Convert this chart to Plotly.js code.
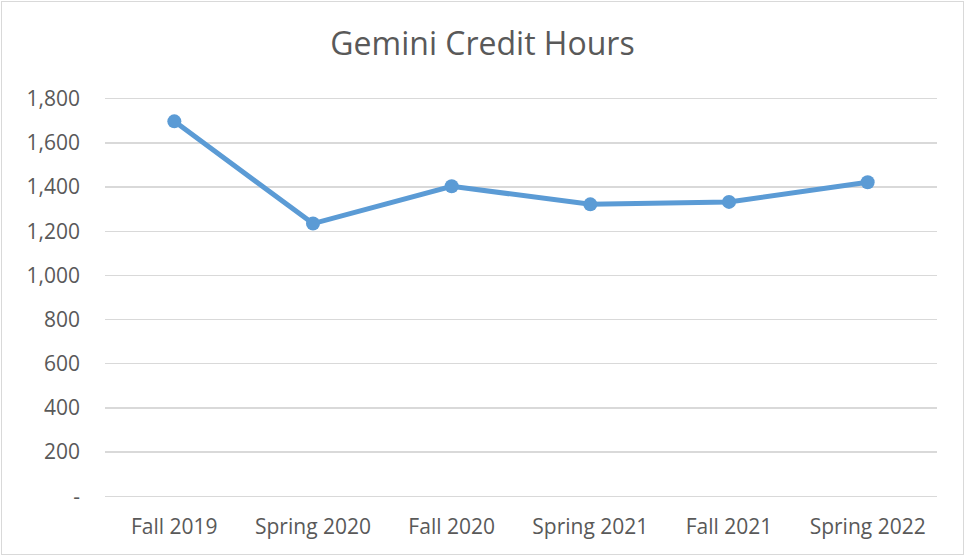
<!DOCTYPE html>
<html>
<head>
<meta charset="utf-8">
<script src="https://cdn.plot.ly/plotly-3.0.1.min.js"></script>
<style>
html,body{margin:0;padding:0;background:#fff;}
#chart{width:965px;height:556px;}
#frame{position:absolute;left:1px;top:1px;width:961px;height:552px;border:1px solid #d9d9d9;pointer-events:none;}
</style>
</head>
<body>
<div id="chart"></div>
<div id="frame"></div>
<script>
const categories = ["Fall 2019", "Spring 2020", "Fall 2020", "Spring 2021", "Fall 2021", "Spring 2022"];
const creditHours = [1698, 1235, 1404, 1322, 1333, 1422];
const yTickVals = [0, 200, 400, 600, 800, 1000, 1200, 1400, 1600, 1800];
const yTickText = ["-", "200", "400", "600", "800", "1,000", "1,200", "1,400", "1,600", "1,800"];

const font = "Open Sans, Liberation Sans, sans-serif";
Plotly.newPlot("chart", [{
  x: categories,
  y: creditHours,
  type: "scatter",
  mode: "lines+markers",
  line: {color: "#5B9BD5", width: 5},
  marker: {color: "#5B9BD5", size: 14},
  hoverinfo: "x+y"
}], {
  width: 965, height: 556,
  margin: {l: 105, r: 28, t: 90, b: 51},
  paper_bgcolor: "#fff", plot_bgcolor: "#fff",
  showlegend: false,
  title: {text: "Gemini Credit Hours", x: 0.5, xanchor: "center", y: 0.922, yanchor: "middle",
    font: {family: font, size: 32, color: "#595959"}},
  xaxis: {type: "category", range: [-0.5, 5.5], showgrid: false, zeroline: false, showline: false,
    ticks: "", ticklabelstandoff: 7,
    tickfont: {family: font, size: 21, color: "#595959"}},
  yaxis: {range: [-40, 1840], tickvals: yTickVals, ticktext: yTickText,
    showgrid: true, gridcolor: "#d9d9d9", gridwidth: 1.3, zeroline: false, showline: false,
    ticks: "", ticklabelstandoff: 24,
    tickfont: {family: font, size: 21, color: "#595959"}}
}, {displayModeBar: false, staticPlot: true});
</script>
</body>
</html>
